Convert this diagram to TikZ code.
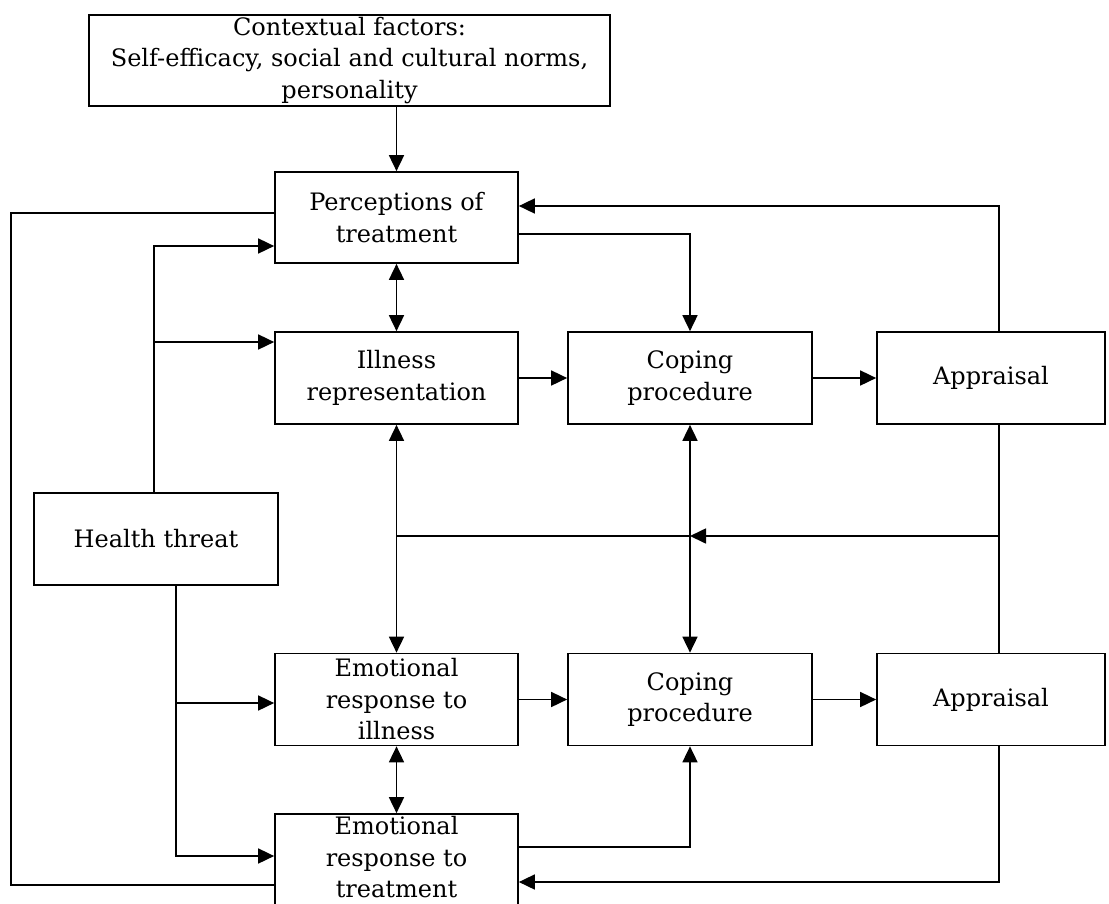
\documentclass[tikz,border=0pt]{standalone}
\usepackage{fontspec}
\setmainfont{DejaVu Serif}
\usetikzlibrary{arrows.meta}
\begin{document}
\begin{tikzpicture}[x=1pt,y=-1pt,
  box/.style={draw,line width=1.7pt,minimum height=92pt,align=center,inner sep=0pt,
    font=\fontsize{24}{31.5}\selectfont},
  link/.style={line width=1.7pt},
  arr/.style={link,-{Triangle[length=16pt,width=15pt]}},
  both/.style={link,{Triangle[length=16pt,width=15pt]}-{Triangle[length=16pt,width=15pt]}}]
\clip (0,0) rectangle (1109,903);
\fill[white] (0,0) rectangle (1109,903);

% boxes
\node[box,minimum width=521pt,minimum height=91pt] (ctx) at (349.5,60.5)
  {Contextual factors:\\Self-efficacy, social and cultural norms,\\personality};
\node[box,minimum width=243pt,minimum height=91pt] (perc) at (396.5,217.5) {Perceptions of\\treatment};
\node[box,minimum width=243pt] (ill) at (396.5,378) {Illness\\representation};
\node[box,minimum width=244pt] (cop1) at (690,378) {Coping\\procedure};
\node[box,minimum width=228pt] (app1) at (991,378) {Appraisal};
\node[box,minimum width=244pt] (health) at (156,539) {Health threat};
\node[box,minimum width=243pt] (eri) at (396.5,699.5) {Emotional\\response to\\illness};
\node[box,minimum width=244pt] (cop2) at (690,699.5) {Coping\\procedure};
\node[box,minimum width=228pt] (app2) at (991,699.5) {Appraisal};
\node[box,minimum width=243pt,minimum height=94pt,text depth=8pt] (ert) at (396.5,861)
  {Emotional\\response to\\treatment};

% attachment points on the box sides
\coordinate (percInL)  at ([yshift=4.5pt]perc.west);
\coordinate (percInH)  at ([yshift=-28.5pt]perc.west);
\coordinate (percOutR) at ([yshift=-16.5pt]perc.east);
\coordinate (percInR)  at ([yshift=11.5pt]perc.east);
\coordinate (illInH)   at ([yshift=36pt]ill.west);
\coordinate (eriInH)   at ([yshift=-3.5pt]eri.west);
\coordinate (ertOutL)  at ([yshift=-24pt]ert.west);
\coordinate (ertInH)   at ([yshift=5pt]ert.west);
\coordinate (ertOutR)  at ([yshift=14pt]ert.east);
\coordinate (ertInR)   at ([yshift=-21pt]ert.east);
\coordinate (healthUp) at ([xshift=-2pt]health.north);
\coordinate (healthDn) at ([xshift=20pt]health.south);
\coordinate (app1Up)   at ([xshift=8pt]app1.north);
\coordinate (app1Dn)   at ([xshift=8pt]app1.south);
\coordinate (app2Up)   at ([xshift=8pt]app2.north);
\coordinate (app2Dn)   at ([xshift=8pt]app2.south);
\coordinate (loopL) at (11,0);
\coordinate (fb) at (999,536);

% contextual factors feed perceptions
\draw[arr] (perc.north |- ctx.south) -- (perc.north);

% outer loop between the two treatment boxes
\draw[link] (ertOutL) -| (loopL |- percInL) -- (percInL);

% health threat into the upper branch
\draw[arr] (healthUp) |- (percInH);
\draw[arr] (healthUp |- illInH) -- (illInH);

% health threat into the lower branch
\draw[arr] (healthDn) |- (ertInH);
\draw[arr] (healthDn |- eriInH) -- (eriInH);

% upper row
\draw[both] (perc.south) -- (ill.north);
\draw[arr] (percOutR) -| (cop1.north);
\draw[arr] (app1Up) |- (percInR);
\draw[arr] (ill.east) -- (cop1.west);
\draw[arr] (cop1.east) -- (app1.west);

% links between the rows
\draw[both] (ill.south) -- (eri.north);
\draw[both] (cop1.south) -- (cop2.north);
\draw[link] (app1Dn) -- (app2Up);
\draw[arr] (fb) -- (fb -| cop1.south);
\draw[link] (fb -| cop1.south) -- (fb -| ill.south);

% lower row
\draw[arr] (eri.east) -- (cop2.west);
\draw[arr] (cop2.east) -- (app2.west);
\draw[both] (eri.south) -- (ert.north);
\draw[arr] (ertOutR) -| (cop2.south);
\draw[arr] (app2Dn) |- (ertInR);
\end{tikzpicture}
\end{document}
